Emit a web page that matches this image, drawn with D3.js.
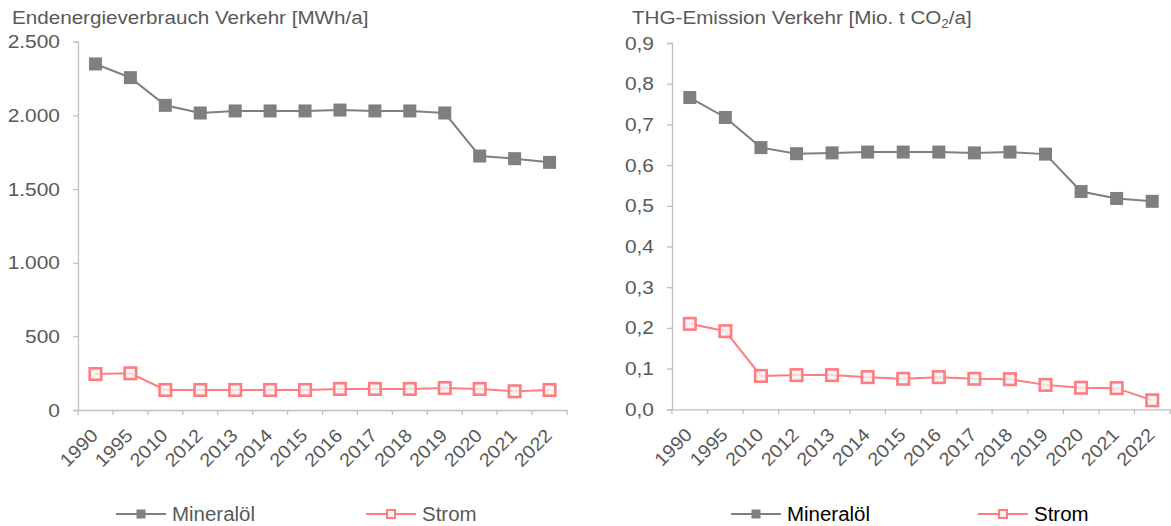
<!DOCTYPE html>
<html><head><meta charset="utf-8">
<script src="https://cdn.jsdelivr.net/npm/d3@7"></script>
<style>
html,body{margin:0;padding:0;background:#fff;}
svg{display:block;font-family:"Liberation Sans",Arial,sans-serif;}
</style></head>
<body>
<svg id="c" width="1171" height="526"></svg>
<script>
const years = ["1990","1995","2010","2012","2013","2014","2015","2016","2017","2018","2019","2020","2021","2022"];
const energyMineraloel = [2349,2256,2068,2016,2030,2030,2030,2036,2030,2030,2016,1724,1706,1681];
const energyStrom = [244,249,136,136,136,136,136,143,143,143,149,143,127,136];
const co2Mineraloel = [0.766,0.717,0.643,0.628,0.630,0.632,0.632,0.632,0.630,0.632,0.627,0.535,0.518,0.511];
const co2Strom = [0.210,0.192,0.082,0.084,0.084,0.079,0.075,0.079,0.075,0.074,0.060,0.053,0.052,0.022];
const energyTicks = [0,500,1000,1500,2000,2500];
const co2Ticks = [0,0.1,0.2,0.3,0.4,0.5,0.6,0.7,0.8,0.9];
const seriesNames = ["Mineralöl","Strom"];

const de = d3.formatLocale({decimal:",",thousands:".",grouping:[3],currency:["","€"]});
const svg = d3.select("#c");
const AXIS = "#bfbfbf", TXT = "#595959", GREY = "#7f7f7f", RED = "#ff7c80";
const FF = "Liberation Sans, Arial, sans-serif";

function panel(cfg){
  const g = svg.append("g");
  const x = d3.scaleBand().domain(years).range([cfg.x0, cfg.x1]);
  const y = d3.scaleLinear().domain([0, cfg.ymax]).range([cfg.yb, cfg.yt]);
  // y axis
  const ya = g.append("g").attr("transform",`translate(${cfg.x0},0)`)
    .call(d3.axisLeft(y).tickValues(cfg.ticks).tickFormat(cfg.fmt).tickSize(5).tickPadding(12));
  ya.select(".domain").attr("stroke",AXIS).attr("stroke-width",1.3);
  ya.selectAll(".tick line").attr("stroke",AXIS).attr("stroke-width",1.3);
  ya.selectAll(".tick text").attr("fill",TXT).style("font-size","19px").style("font-family",FF)
    .attr("x",0).attr("transform","translate(-18,0) scale(1.1,1)");
  // x axis
  const xa = g.append("g").attr("transform",`translate(0,${cfg.yb})`)
    .call(d3.axisBottom(x).tickSize(0).tickPadding(0));
  xa.select(".domain").attr("stroke",AXIS).attr("stroke-width",1.3);
  xa.selectAll(".tick text").attr("fill",TXT).style("font-size","18.5px")
    .style("font-family",FF)
    .attr("y",0).attr("text-anchor","end").attr("dy","0.35em")
    .attr("transform","translate(-1,22) rotate(-45) scale(1.08,1)");
  g.selectAll("line.bt").data(years.concat(["end"])).enter().append("line")
    .attr("x1",(d,i)=> cfg.x0 + i*x.step()).attr("x2",(d,i)=> cfg.x0 + i*x.step())
    .attr("y1",cfg.yb).attr("y2",cfg.yb+5).attr("stroke",AXIS).attr("stroke-width",1.3);
  // title
  const t = g.append("text").attr("transform",`translate(${cfg.tx},23.5) scale(1.11,1)`)
    .attr("fill",TXT).style("font-size","18.6px");
  cfg.title(t);
  // lines
  const line = d3.line().x((d,i)=>x(years[i])+x.bandwidth()/2).y(d=>y(d));
  g.append("path").datum(cfg.s1).attr("d",line).attr("fill","none").attr("stroke",GREY).attr("stroke-width",2);
  g.append("path").datum(cfg.s2).attr("d",line).attr("fill","none").attr("stroke",RED).attr("stroke-width",2);
  const S = 13;
  g.selectAll("rect.m1").data(cfg.s1).enter().append("rect")
    .attr("x",(d,i)=>x(years[i])+x.bandwidth()/2-S/2).attr("y",d=>y(d)-S/2)
    .attr("width",S).attr("height",S).attr("fill",GREY);
  const S2 = 11.5;
  g.selectAll("rect.m2").data(cfg.s2).enter().append("rect")
    .attr("x",(d,i)=>x(years[i])+x.bandwidth()/2-S2/2).attr("y",d=>y(d)-S2/2)
    .attr("width",S2).attr("height",S2).attr("fill","#f2f2f2").attr("fill-opacity",0.8)
    .attr("stroke",RED).attr("stroke-width",2.6);
  // legend
  const ly = 514;
  const L = g.append("g");
  L.append("line").attr("x1",cfg.l1).attr("x2",cfg.l1+50).attr("y1",ly).attr("y2",ly).attr("stroke",GREY).attr("stroke-width",2);
  L.append("rect").attr("x",cfg.l1+25-4.5).attr("y",ly-4.5).attr("width",9).attr("height",9).attr("fill",GREY);
  L.append("text").attr("transform",`translate(${cfg.l1+56},${ly+7}) scale(1.05,1)`).attr("fill",cfg.legColor).style("font-size","19.5px").text(seriesNames[0]);
  L.append("line").attr("x1",cfg.l2).attr("x2",cfg.l2+50).attr("y1",ly).attr("y2",ly).attr("stroke",RED).attr("stroke-width",2);
  L.append("rect").attr("x",cfg.l2+25-4).attr("y",ly-4).attr("width",8).attr("height",8).attr("fill","#f2f2f2").attr("stroke",RED).attr("stroke-width",2);
  L.append("text").attr("transform",`translate(${cfg.l2+56},${ly+7}) scale(1.05,1)`).attr("fill",cfg.legColor).style("font-size","19.5px").text(seriesNames[1]);
}

panel({x0:78,x1:567,yb:410,yt:41.7,ymax:2500,ticks:energyTicks,fmt:de.format(",.0f"),
  s1:energyMineraloel,s2:energyStrom,tx:12,l1:116,l2:366,legColor:TXT,
  title:t=>t.text("Endenergieverbrauch Verkehr [MWh/a]")});
panel({x0:672,x1:1170,yb:409.3,yt:43,ymax:0.9,ticks:co2Ticks,fmt:de.format(",.1f"),
  s1:co2Mineraloel,s2:co2Strom,tx:632,l1:731,l2:978,legColor:"#000",
  title:t=>{ t.append("tspan").text("THG-Emission Verkehr [Mio. t CO");
             t.append("tspan").attr("dy",4).style("font-size","12px").text("2");
             t.append("tspan").attr("dy",-4).text("/a]"); }});
</script>
</body></html>
